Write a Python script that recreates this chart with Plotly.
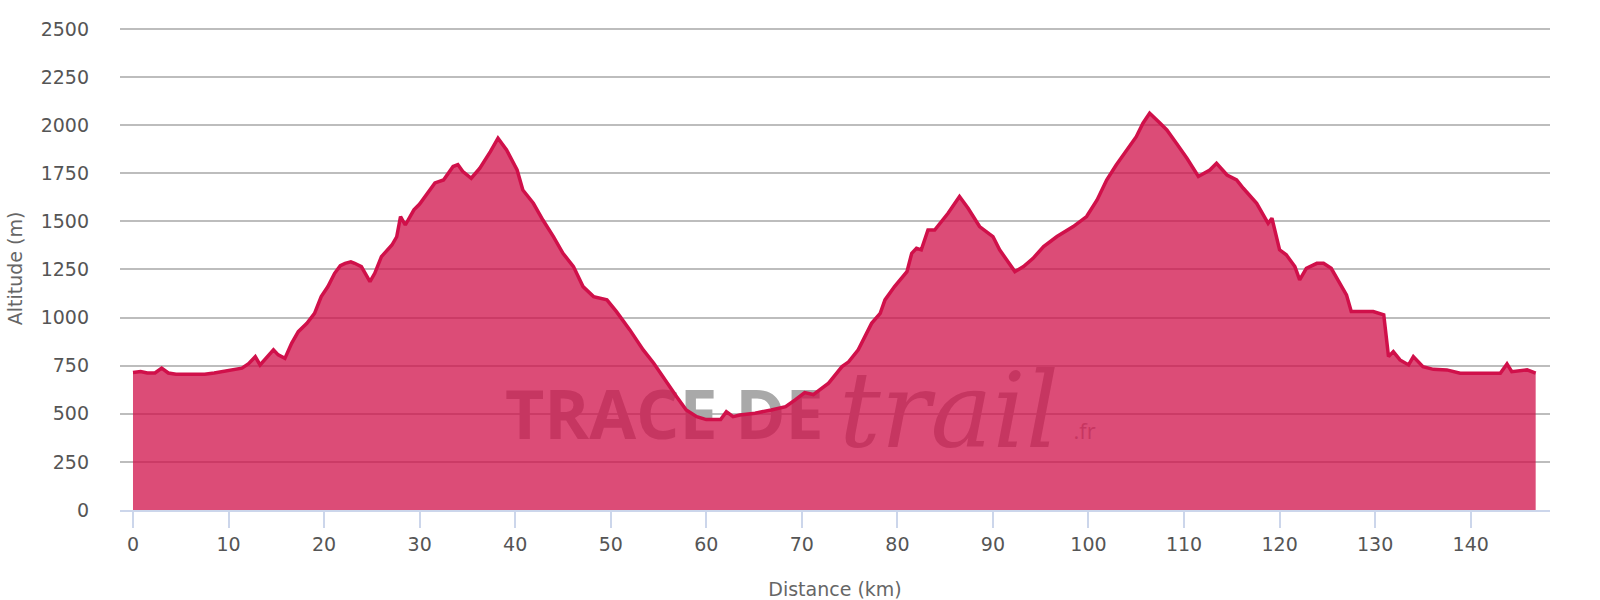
import plotly.graph_objects as go

# Distance along the route (km) and altitude (m)
distance_km = [
    0.0, 0.8, 1.5, 2.3, 3.0, 3.7, 4.5, 5.5, 6.5, 7.5, 8.5, 9.6, 10.5, 11.4, 12.1, 12.8, 13.3,
    14.2, 14.7, 15.2, 15.9, 16.6, 17.3, 18.2, 19.0, 19.7, 20.4, 21.1, 21.7, 22.2, 22.8, 23.2,
    23.9, 24.8, 25.3, 26.0, 27.1, 27.6, 28.0, 28.5, 29.4, 30.0, 30.7, 31.6, 32.5, 33.5, 34.0,
    34.5, 35.4, 36.3, 37.4, 38.2, 39.1, 40.2, 40.8, 41.9, 42.9, 44.0, 45.0, 46.1, 47.1, 48.2,
    49.6, 50.6, 52.0, 53.4, 54.5, 55.9, 56.9, 57.9, 59.0, 60.0, 61.0, 61.5, 62.1, 62.8, 63.5,
    65.1, 66.8, 68.3, 69.3, 70.3, 71.2, 72.8, 74.2, 74.9, 75.9, 76.6, 77.3, 78.2, 78.7, 79.7,
    81.0, 81.5, 82.0, 82.5, 83.2, 83.9, 85.3, 86.5, 87.4, 88.6, 90.0, 90.7, 92.0, 92.3, 93.2,
    94.2, 95.3, 96.7, 98.4, 99.8, 100.9, 101.9, 102.9, 104.0, 105.0, 105.7, 106.4, 107.5,
    108.2, 109.2, 110.3, 111.5, 112.7, 113.4, 114.5, 115.5, 116.2, 117.6, 118.8, 119.2, 120.0,
    120.7, 121.6, 122.1, 122.8, 123.9, 124.6, 125.4, 126.3, 127.0, 127.5, 129.8, 130.9, 131.4,
    131.9, 132.6, 133.5, 134.0, 135.0, 136.1, 137.5, 138.9, 141.7, 143.1, 143.8, 144.3, 145.9,
    146.8,
]
altitude_m = [
    715, 720, 712, 712, 737, 712, 705, 705, 702, 705, 712, 722, 730, 737, 760, 797, 754,
    806, 832, 806, 788, 866, 927, 970, 1022, 1109, 1161, 1230, 1270, 1282, 1290, 1282,
    1265, 1187, 1230, 1317, 1377, 1420, 1525, 1481, 1560, 1590, 1640, 1700, 1715, 1785, 1795,
    1760, 1724, 1776, 1862, 1932, 1871, 1767, 1663, 1594, 1507, 1421, 1334, 1265, 1161, 1109,
    1092, 1031, 936, 832, 763, 659, 589, 520, 485, 470, 468, 470, 511, 485, 494,
    503, 520, 537, 572, 610, 600, 659, 745, 770, 832, 901, 970, 1022, 1092, 1161,
    1239, 1334, 1360, 1352, 1455, 1455, 1542, 1629, 1568, 1473, 1421, 1352, 1256, 1239, 1265,
    1308, 1369, 1421, 1473, 1525, 1611, 1715, 1793, 1871, 1940, 2010, 2062, 2010,
    1975, 1906, 1828, 1733, 1767, 1802, 1741, 1715, 1672, 1594, 1490, 1516, 1352,
    1326, 1265, 1196, 1256, 1282, 1282, 1256, 1178, 1118, 1031, 1031, 1014, 797,
    823, 780, 754, 797, 745, 731, 728, 711, 711, 711, 759, 719, 728,
    711,
]

x_ticks = [0, 10, 20, 30, 40, 50, 60, 70, 80, 90, 100, 110, 120, 130, 140]
y_ticks = [0, 250, 500, 750, 1000, 1250, 1500, 1750, 2000, 2250, 2500]

# Watermark texts (background branding), placed in data space so the area draws over them
wm_texts = ["<b>TRACE DE</b>", "<i>trail</i>", ".fr"]
wm_x = [55.6, 85.4, 99.6]
wm_y = [455, 460, 400]
wm_sizes = [68, 104, 22]
wm_fonts = ["Open Sans", "DejaVu Serif", "Open Sans"]

fig = go.Figure()

for t, xx, yy, s, f in zip(wm_texts, wm_x, wm_y, wm_sizes, wm_fonts):
    fig.add_trace(go.Scatter(
        x=[xx], y=[yy], mode="text", text=[t],
        textfont=dict(family=f, size=s, color="#a9a9a9"),
        textposition="middle center", hoverinfo="skip", showlegend=False,
    ))

fig.add_trace(go.Scatter(
    x=distance_km, y=altitude_m, mode="lines", fill="tozeroy",
    line=dict(color="#d0104a", width=3.5),
    fillcolor="rgba(208,16,74,0.75)",
    showlegend=False,
))

fig.update_layout(
    width=1600, height=600,
    margin=dict(l=120, r=50, t=27, b=90, autoexpand=False),
    paper_bgcolor="white", plot_bgcolor="white",
    font=dict(family="DejaVu Sans", color="#555555", size=19),
    xaxis=dict(
        range=[-1.36, 148.3], tickvals=x_ticks, showgrid=False, zeroline=False,
        showline=True, linecolor="#ccd6eb", linewidth=1.5, automargin=False,
        ticks="outside", ticklen=16, tickwidth=1.5, tickcolor="#ccd6eb",
        tickfont=dict(size=19, color="#555555"),
        title=dict(text="Distance (km)", font=dict(size=19, color="#666666"), standoff=29),
    ),
    yaxis=dict(
        range=[0, 2510], tickvals=y_ticks, showgrid=True, gridcolor="#bdbdbd", gridwidth=1.6,
        zeroline=False, showline=False, ticks="", ticklabelstandoff=30, automargin=False,
        tickfont=dict(size=19, color="#555555"),
        title=dict(text="Altitude (m)", font=dict(size=19, color="#666666"), standoff=12),
    ),
)

fig.write_html("out.html", config={"displayModeBar": False},
               post_script="document.body.style.margin='0';")
